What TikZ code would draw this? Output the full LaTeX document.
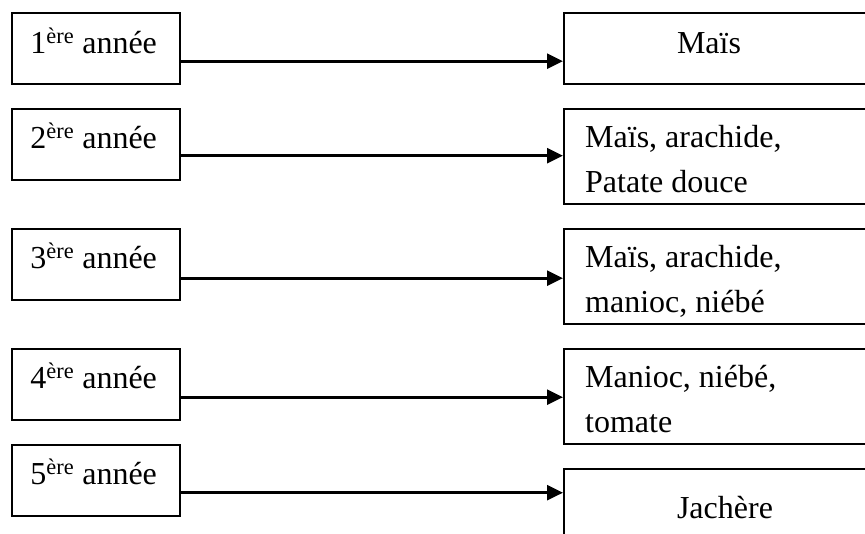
\documentclass[tikz,border=0pt]{standalone}
\usepackage{fontspec}
\setmainfont{Liberation Serif}
\usetikzlibrary{positioning,arrows.meta}

\tikzset{
  yearbox/.style={draw, line width=2.4pt, minimum width=168pt, minimum height=71pt, inner sep=0pt, anchor=north west},
  cropbox/.style={draw, line width=2.4pt, minimum width=330pt, inner sep=0pt, anchor=north west},
  txt/.style={inner sep=0pt, font=\fontsize{32}{45}\selectfont},
  flow/.style={line width=2.8pt, -{Triangle[length=16pt,width=15pt]}}
}

\begin{document}
\begin{tikzpicture}[x=1pt,y=-1pt]
    \useasboundingbox (0,0) rectangle (865,533);
    \clip (0,0) rectangle (865,533);

    % Years (left column)
    \node[yearbox] (Y1) at (11,12) {};
    \node[yearbox] (Y2) at (11,108) {};
    \node[yearbox] (Y3) at (11,228) {};
    \node[yearbox] (Y4) at (11,348) {};
    \node[yearbox] (Y5) at (11,444) {};

    \node[txt, anchor=base] (L1) at ([xshift=-2.5pt, yshift=-41pt]Y1.north) {1\textsuperscript{ère} année};
    \node[txt, anchor=base] (L2) at ([xshift=-2.5pt, yshift=-40pt]Y2.north) {2\textsuperscript{ère} année};
    \node[txt, anchor=base] (L3) at ([xshift=-2.5pt, yshift=-40pt]Y3.north) {3\textsuperscript{ère} année};
    \node[txt, anchor=base] (L4) at ([xshift=-2.5pt, yshift=-40pt]Y4.north) {4\textsuperscript{ère} année};
    \node[txt, anchor=base] (L5) at ([xshift=-2.5pt, yshift=-40pt]Y5.north) {5\textsuperscript{ère} année};

    % Crops (right column, cut at the right edge)
    \node[cropbox, minimum height=71pt] (C1) at (563,12) {};
    \node[cropbox, minimum height=95pt] (C2) at (563,108) {};
    \node[cropbox, minimum height=95pt] (C3) at (563,228) {};
    \node[cropbox, minimum height=95pt] (C4) at (563,348) {};
    \node[cropbox, minimum height=100pt] (C5) at (563,468) {};

    % base of a two-line node = base of its last line
    \node[txt, anchor=base] (K1) at ([xshift=146pt, yshift=-41pt]C1.north west) {Maïs};
    \node[txt, anchor=base west, align=left] (K2) at ([xshift=22pt, yshift=-84pt]C2.north west) {Maïs, arachide,\\Patate douce};
    \node[txt, anchor=base west, align=left] (K3) at ([xshift=22pt, yshift=-84pt]C3.north west) {Maïs, arachide,\\manioc, niébé};
    \node[txt, anchor=base west, align=left] (K4) at ([xshift=22pt, yshift=-84pt]C4.north west) {Manioc, niébé,\\tomate};
    \node[txt, anchor=base] (K5) at ([xshift=162pt, yshift=-50pt]C5.north west) {Jachère};

    % Arrows
    \draw[flow] ([yshift=-12.5pt]Y1.east) -- ([yshift=-12.5pt]Y1.east -| C1.west);
    \draw[flow] ([yshift=-11pt]Y2.east) -- ([yshift=-11pt]Y2.east -| C2.west);
    \draw[flow] ([yshift=-13.5pt]Y3.east) -- ([yshift=-13.5pt]Y3.east -| C3.west);
    \draw[flow] ([yshift=-12.5pt]Y4.east) -- ([yshift=-12.5pt]Y4.east -| C4.west);
    \draw[flow] ([yshift=-12pt]Y5.east) -- ([yshift=-12pt]Y5.east -| C5.west);
\end{tikzpicture}
\end{document}
